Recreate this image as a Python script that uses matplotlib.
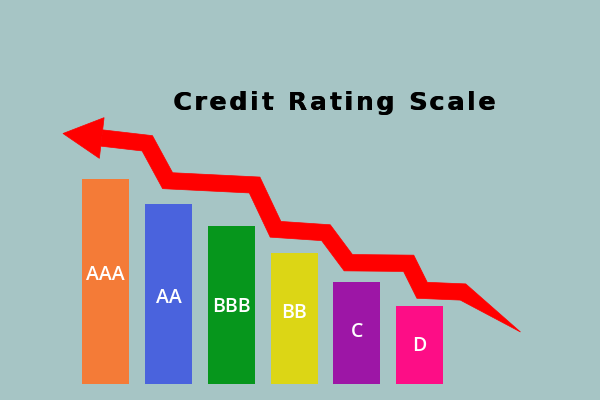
import matplotlib
matplotlib.use('Agg')
import matplotlib.pyplot as plt
import numpy as np
from matplotlib.patches import Polygon

# ---- data ----
categories = ['AAA', 'AA', 'BBB', 'BB', 'C', 'D']
values = [205, 180, 158, 131, 102, 78]
bar_colors = ['#f47b37', '#4a63dd', '#06961c', '#dcd615', '#9d16a6', '#fd0d86']
label_frac = [0.53, 0.48, 0.49, 0.54, 0.51, 0.49]
arrow_x = [-0.065, 0.661, 0.985, 2.371, 2.705, 3.508, 3.864, 4.826, 5.040, 5.692, 6.608]
arrow_y = [246, 240.7, 203.3, 199, 154.7, 151.3, 121.3, 120.7, 93.7, 92, 52]
title = 'Credit Rating Scale'

bg = '#a6c5c5'
red = '#ff0000'

fig = plt.figure(figsize=(6, 4), dpi=100, facecolor=bg)
ax = fig.add_axes([0, 0, 1, 1])
ax.set_facecolor(bg)
ax.set_xlim(-1.686, 7.875)
ax.set_ylim(-16, 384)
ax.axis('off')

x = np.arange(len(categories))
ax.bar(x, values, width=0.75, color=bar_colors, zorder=2)
for xi, v, c, f in zip(x, values, categories, label_frac):
    ax.text(xi, v * f, c, color='white', ha='center', va='center',
            fontsize=14, fontweight='semibold', family='Open Sans', zorder=3)

# ---- arrow (in display pixels) ----
pts = ax.transData.transform(np.column_stack([arrow_x, arrow_y]))
half = 8.2
widths = np.full(len(pts), half)
widths[-1] = 0.0


def normal(a, b):
    d = b - a
    d = d / np.hypot(*d)
    return np.array([-d[1], d[0]])


left, right = [], []
n = len(pts)
for i in range(n):
    if i == 0:
        m = normal(pts[0], pts[1]); s = 1.0
    elif i == n - 1:
        m = normal(pts[-2], pts[-1]); s = 1.0
    else:
        n1 = normal(pts[i - 1], pts[i]); n2 = normal(pts[i], pts[i + 1])
        m = n1 + n2
        m = m / np.hypot(*m)
        s = 1.0 / np.dot(m, n1)
    left.append(pts[i] + m * widths[i] * s)
    right.append(pts[i] - m * widths[i] * s)
body = np.array(left + right[::-1])

d = pts[0] - pts[1]
d = d / np.hypot(*d)
nrm = np.array([-d[1], d[0]])
tip = pts[0] + d * 39
head = np.array([tip, pts[0] + nrm * 20.5, pts[0] - nrm * 20.5])

inv = ax.transData.inverted()
ax.add_patch(Polygon(inv.transform(body), closed=True, facecolor=red,
                     edgecolor=red, lw=0.5, zorder=4))
ax.add_patch(Polygon(inv.transform(head), closed=True, facecolor=red,
                     edgecolor=red, lw=0.5, zorder=4))

# ---- title with letter spacing ----
renderer = fig.canvas.get_renderer()
tkw = dict(fontsize=18, fontweight='bold', family='DejaVu Sans', color='black')


def text_w(s):
    t = fig.text(0, 0, s, **tkw)
    w = t.get_window_extent(renderer).width
    t.remove()
    return w


space_w = text_w('A A') - text_w('AA')
char_w = [space_w if ch == ' ' else text_w(ch) for ch in title]
left_px, right_px = 173.0, 495.0
track = (right_px - left_px - sum(char_w)) / (len(title) - 1)
baseline_px = 400 - 110.0
xp = left_px
for ch, w in zip(title, char_w):
    if ch != ' ':
        fig.text(xp / 600.0, baseline_px / 400.0, ch, ha='left', va='baseline', **tkw)
        fig.text(xp / 600.0 + 0.6 / 600.0, baseline_px / 400.0, ch, ha='left', va='baseline', **tkw)
    xp += w + track

fig.savefig('out.png', dpi=100, facecolor=bg)
